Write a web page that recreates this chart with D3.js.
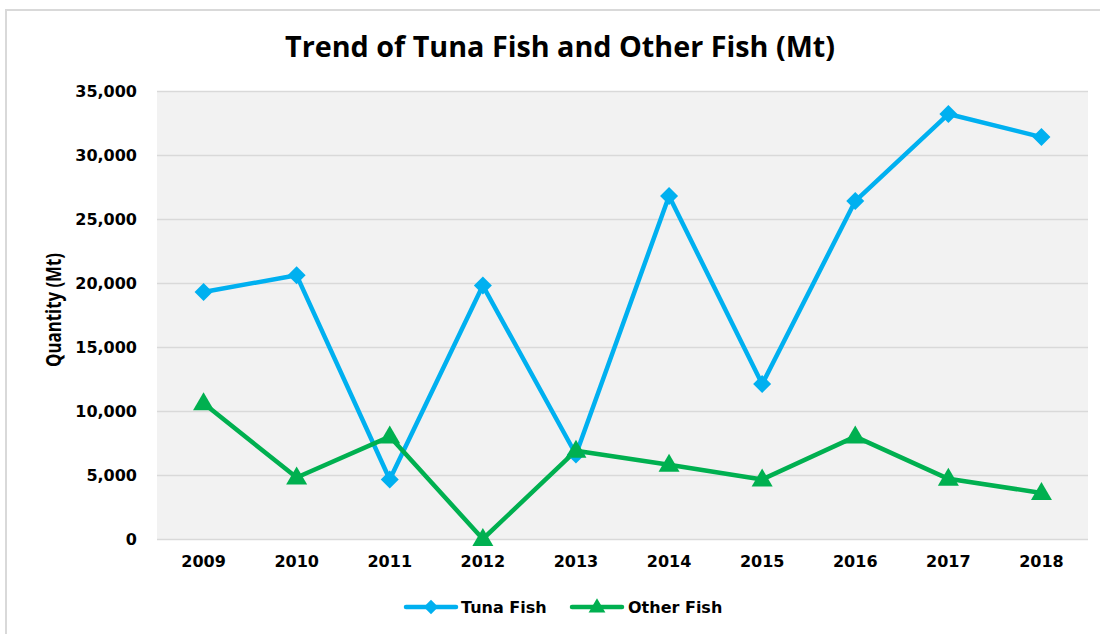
<!DOCTYPE html>
<html>
<head>
<meta charset="utf-8">
<script src="https://cdn.jsdelivr.net/npm/d3@7"></script>
<style>
  html, body { margin: 0; padding: 0; background: #fff; }
  svg { display: block; }
</style>
</head>
<body>
<svg id="chart" width="1100" height="634"></svg>
<script>
const years = ["2009","2010","2011","2012","2013","2014","2015","2016","2017","2018"];
const tunaFish = [19300, 20600, 4650, 19800, 6600, 26800, 12100, 26400, 33200, 31400];
const otherFish = [10600, 4800, 8000, 0, 6900, 5800, 4650, 8000, 4700, 3600];
const yTicks = [0, 5000, 10000, 15000, 20000, 25000, 30000, 35000];
const titleText = "Trend of Tuna Fish and Other Fish (Mt)";
const yAxisTitle = "Quantity (Mt)";
const seriesNames = ["Tuna Fish", "Other Fish"];

const svg = d3.select("#chart");
const W = 1100, H = 634;
const m = { left: 157, right: 1088, top: 91, bottom: 539 };

// outer chart border
svg.append("path")
  .attr("d", `M6,${H + 5} L6,10 L${W + 5},10`)
  .attr("fill", "none").attr("stroke", "#d9d9d9").attr("stroke-width", 2);

const x = d3.scaleBand().domain(years).range([m.left, m.right]);
const y = d3.scaleLinear().domain([0, 35000]).range([m.bottom, m.top]);

// plot background
svg.append("rect")
  .attr("x", m.left).attr("y", m.top)
  .attr("width", m.right - m.left).attr("height", m.bottom - m.top)
  .attr("fill", "#f2f2f2");

// gridlines
svg.append("g").selectAll("line").data(yTicks).join("line")
  .attr("x1", m.left).attr("x2", m.right)
  .attr("y1", d => y(d) + 0.5).attr("y2", d => y(d) + 0.5)
  .attr("stroke", "#d9d9d9").attr("stroke-width", 1.5);

// y axis labels
const yAxis = d3.axisLeft(y).tickValues(yTicks).tickFormat(d3.format(",")).tickSize(0).tickPadding(20);
const gy = svg.append("g").attr("transform", `translate(${m.left},0)`).call(yAxis);
gy.select(".domain").remove();
gy.selectAll("text")
  .attr("font-family", "DejaVu Sans, Verdana, sans-serif")
  .attr("font-weight", "bold").attr("font-size", 16).attr("fill", "#000")
  .attr("dy", "0.35em");

// x axis labels
const xAxis = d3.axisBottom(x).tickSize(0).tickPadding(17);
const gx = svg.append("g").attr("transform", `translate(0,${m.bottom})`).call(xAxis);
gx.select(".domain").remove();
gx.selectAll("text")
  .attr("font-family", "DejaVu Sans, Verdana, sans-serif")
  .attr("font-weight", "bold").attr("font-size", 16).attr("fill", "#000");

const cx = d => x(d) + x.bandwidth() / 2;

const line = d3.line().x(d => cx(d[0])).y(d => y(d[1]));

const tunaColor = "#00b0f0", otherColor = "#00b050";
const tunaData = years.map((yr, i) => [yr, tunaFish[i]]);
const otherData = years.map((yr, i) => [yr, otherFish[i]]);

svg.append("path").datum(tunaData).attr("d", line)
  .attr("fill", "none").attr("stroke", tunaColor).attr("stroke-width", 4.5).attr("stroke-linejoin", "round");
svg.append("path").datum(otherData).attr("d", line)
  .attr("fill", "none").attr("stroke", otherColor).attr("stroke-width", 4.5).attr("stroke-linejoin", "round");

const diamond = "M0,-9 L9,0 L0,9 L-9,0 Z";
const triangle = "M0,-11 L10.5,7 L-10.5,7 Z";

svg.append("g").selectAll("path").data(tunaData).join("path")
  .attr("d", diamond)
  .attr("transform", d => `translate(${cx(d[0])},${y(d[1])})`)
  .attr("fill", tunaColor);
svg.append("g").selectAll("path").data(otherData).join("path")
  .attr("d", triangle)
  .attr("transform", d => `translate(${cx(d[0])},${y(d[1])})`)
  .attr("fill", otherColor);

// title
svg.append("text")
  .attr("x", 560).attr("y", 57)
  .attr("text-anchor", "middle")
  .attr("font-family", "Open Sans, sans-serif").attr("font-weight", "bold")
  .attr("font-size", 28).attr("fill", "#000")
  .attr("textLength", 550).attr("lengthAdjust", "spacingAndGlyphs")
  .text(titleText);

// y axis title
svg.append("text")
  .attr("transform", "translate(61,310) rotate(-90)")
  .attr("text-anchor", "middle")
  .attr("font-family", "Open Sans, sans-serif").attr("font-weight", "bold")
  .attr("font-size", 20.5).attr("fill", "#000")
  .attr("textLength", 114).attr("lengthAdjust", "spacingAndGlyphs")
  .text(yAxisTitle);

// legend
const legend = svg.append("g");
const legItems = [
  { name: seriesNames[0], color: tunaColor, shape: diamond, x0: 406, tx: 461 },
  { name: seriesNames[1], color: otherColor, shape: triangle, x0: 572, tx: 628 }
];
legItems.forEach(it => {
  legend.append("line")
    .attr("x1", it.x0).attr("x2", it.x0 + 50).attr("y1", 607).attr("y2", 607)
    .attr("stroke", it.color).attr("stroke-width", 4.5).attr("stroke-linecap", "round");
  legend.append("path").attr("d", it.shape)
    .attr("transform", `translate(${it.x0 + 25},607) scale(0.8)`)
    .attr("fill", it.color);
  legend.append("text")
    .attr("x", it.tx).attr("y", 607).attr("dy", "0.35em")
    .attr("font-family", "DejaVu Sans, Verdana, sans-serif").attr("font-weight", "bold")
    .attr("font-size", 16).attr("fill", "#000")
    .text(it.name);
});
</script>
</body>
</html>
